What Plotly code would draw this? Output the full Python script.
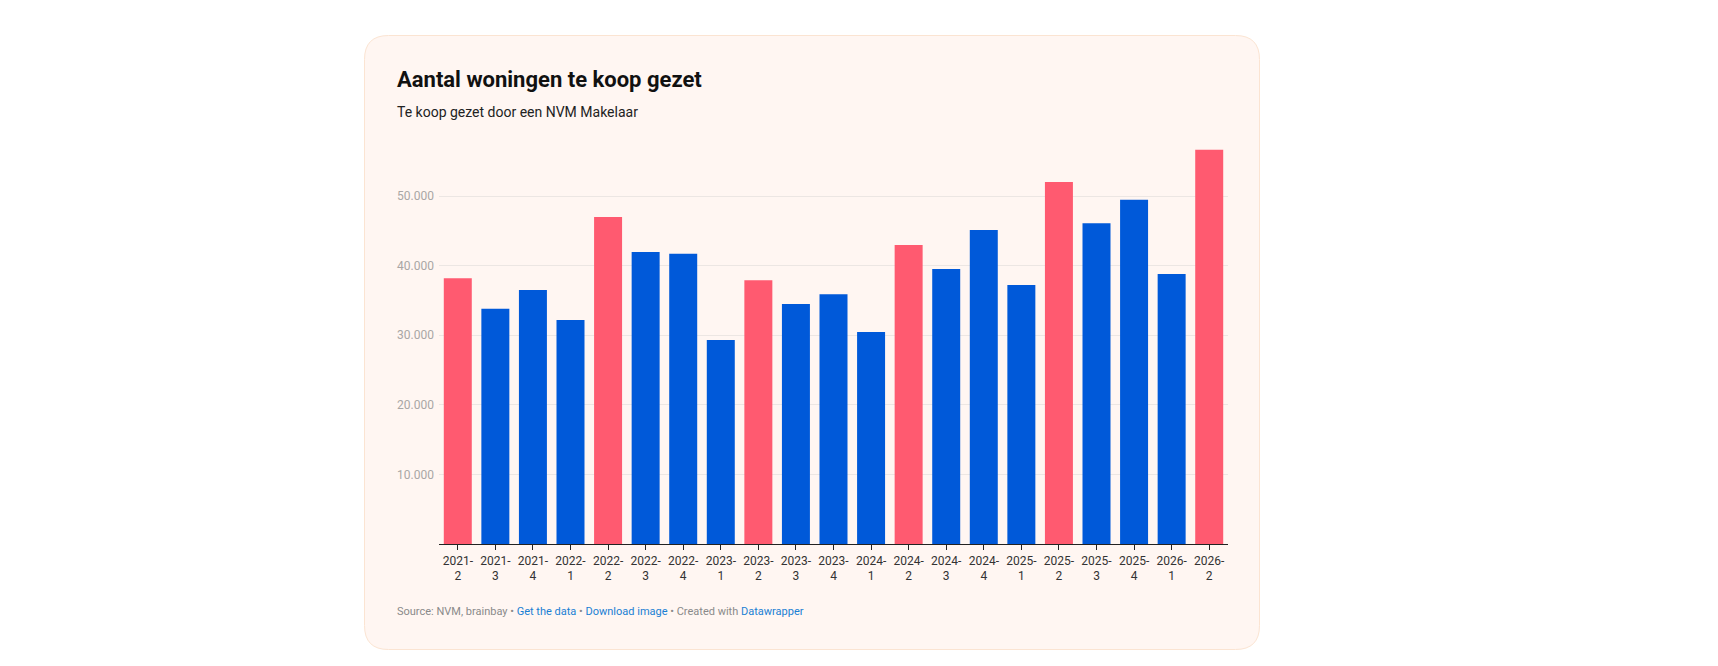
import plotly.graph_objects as go

# ---------------- data ----------------
categories = ["2021-2", "2021-3", "2021-4", "2022-1", "2022-2", "2022-3", "2022-4",
              "2023-1", "2023-2", "2023-3", "2023-4", "2024-1", "2024-2", "2024-3",
              "2024-4", "2025-1", "2025-2", "2025-3", "2025-4", "2026-1", "2026-2"]
values = [38200, 33800, 36500, 32200, 47000, 41950, 41700,
          29300, 37900, 34500, 35900, 30450, 42950, 39500,
          45100, 37200, 52000, 46100, 49450, 38800, 56650]
y_ticks = [10000, 20000, 30000, 40000, 50000]

title = "Aantal woningen te koop gezet"
subtitle = "Te koop gezet door een NVM Makelaar"

# ---------------- styling ----------------
PAGE_MARGIN = 8          # default body margin of the html page
W, H = 1718 - 2 * PAGE_MARGIN, 666 - 2 * PAGE_MARGIN
RED = "#ff5a70"
BLUE = "#0059d9"
CARD_FILL = "#fff6f2"
CARD_LINE = "#fbe4d2"
FONT = "Roboto"

colors = [RED if c.endswith("-2") else BLUE for c in categories]
ticktext = [c.replace("-", "-<br>") for c in categories]


def px_x(x):
    # screen pixel -> paper
    return (x - PAGE_MARGIN) / W


def px_y(y):
    return 1 - (y - PAGE_MARGIN) / H


def rounded_rect(x0, y0, x1, y1, r):
    rx = r / W
    ry = r / H
    a, b, c, d = px_x(x0), px_x(x1), px_y(y0), px_y(y1)
    return (
        f"M {a + rx},{c} L {b - rx},{c} Q {b},{c} {b},{c - ry} "
        f"L {b},{d + ry} Q {b},{d} {b - rx},{d} "
        f"L {a + rx},{d} Q {a},{d} {a},{d + ry} "
        f"L {a},{c - ry} Q {a},{c} {a + rx},{c} Z"
    )


fig = go.Figure()
fig.add_trace(go.Bar(
    x=categories,
    y=values,
    marker=dict(color=colors, line=dict(width=0)),
    hovertemplate="%{x}: %{y:,}<extra></extra>",
))

plot_left, plot_right = 439, 1228
plot_bottom = 544
y_max = 57000
px_per_unit = 69.6 / 10000
plot_top = plot_bottom - y_max * px_per_unit

fig.update_layout(
    width=W, height=H,
    margin=dict(l=0, r=0, t=0, b=0),
    paper_bgcolor="white",
    plot_bgcolor="rgba(0,0,0,0)",
    separators=",.",
    showlegend=False,
    bargap=0.255,
    font=dict(family=FONT, color="#333333", size=12),
    xaxis=dict(
        domain=[px_x(plot_left), px_x(plot_right)],
        type="category",
        tickmode="array",
        tickvals=categories,
        ticktext=ticktext,
        showline=True, linecolor="#222222", linewidth=1.3,
        ticks="outside", ticklen=5, tickcolor="#222222", tickwidth=1,
        showgrid=False, zeroline=False,
        tickfont=dict(family=FONT, size=12, color="#333333"),
        automargin=False,
        fixedrange=True,
    ),
    yaxis=dict(
        domain=[px_y(plot_bottom), px_y(plot_top)],
        range=[0, y_max],
        tickmode="array",
        tickvals=y_ticks,
        tickformat=",d",
        showgrid=True, gridcolor="#ece6e3", gridwidth=1,
        zeroline=False, showline=False, ticks="",
        ticklabelstandoff=4,
        tickfont=dict(family=FONT, size=12, color="#a9a6a5"),
        automargin=False,
        fixedrange=True,
    ),
    shapes=[dict(
        type="path", xref="paper", yref="paper", layer="below",
        path=rounded_rect(364.5, 35.5, 1259.5, 649.5, 24),
        fillcolor=CARD_FILL, line=dict(color=CARD_LINE, width=1),
    )],
    annotations=[
        dict(text=f"<b>{title}</b>", xref="paper", yref="paper",
             x=px_x(395), y=px_y(80), xanchor="left", yanchor="middle",
             showarrow=False, font=dict(family=FONT, size=22, color="#111111")),
        dict(text=subtitle, xref="paper", yref="paper",
             x=px_x(395), y=px_y(112), xanchor="left", yanchor="middle",
             showarrow=False, font=dict(family=FONT, size=14, color="#222222")),
        dict(text=("Source: NVM, brainbay • "
                   "<span style='color:#1a7fd4'>Get the data</span> • "
                   "<span style='color:#1a7fd4'>Download image</span> • "
                   "Created with <span style='color:#1a7fd4'>Datawrapper</span>"),
             xref="paper", yref="paper",
             x=px_x(395), y=px_y(611), xanchor="left", yanchor="middle",
             showarrow=False, font=dict(family=FONT, size=11, color="#8a8a8a")),
    ],
)

fig.write_html("out.html")
